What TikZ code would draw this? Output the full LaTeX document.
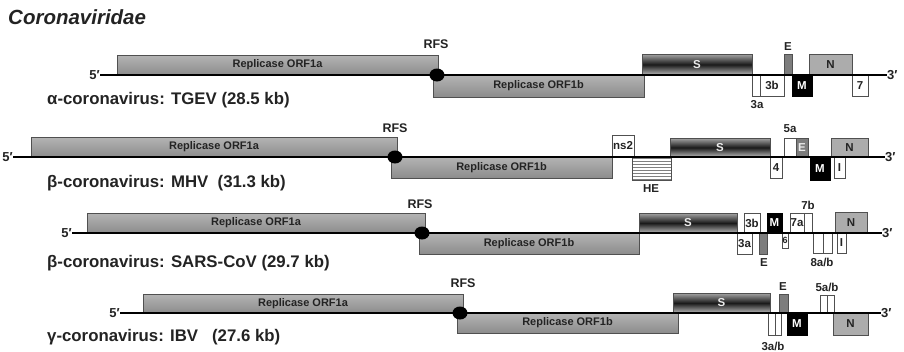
\documentclass[tikz,border=0pt]{standalone}
\usepackage{fontspec}
\setmainfont{Liberation Sans}
\usetikzlibrary{patterns,shapes.geometric}
\definecolor{orftop}{RGB}{180,180,180}
\definecolor{orfbot}{RGB}{140,140,140}
\definecolor{edgec}{RGB}{80,80,80}
\definecolor{ngray}{RGB}{172,172,172}
\definecolor{egray}{RGB}{125,125,125}
\definecolor{txt}{RGB}{35,35,35}
\newcommand{\gbox}[7]{\node[#6, anchor=north west, minimum width={(#4)-(#2)}, minimum height={(#5)-(#3)}] (#1) at (#2,#3) {#7};}
\tikzset{
  base/.style={inner sep=0pt, outer sep=0pt, line width=0.7pt, draw=edgec, text=txt, font=\bfseries\fontsize{11.5}{11.5}\selectfont},
  orf/.style={base, top color=orftop, bottom color=orfbot, font=\bfseries\fontsize{11}{11}\selectfont},
  spike/.style={base, top color=gray!70, bottom color=gray!55, middle color=black!90, text=white!85!gray},
  wbox/.style={base, fill=white},
  nbox/.style={base, fill=ngray},
  ebox/.style={base, fill=egray, text=white!85!gray},
  mbox/.style={base, fill=black, draw=black, text=white},
  hebox/.style={base, pattern=horizontal lines, pattern color=gray},
  genome/.style={line width=2pt, draw=black},
  rfsdot/.style={ellipse, fill=black, inner sep=0pt, minimum width=15pt, minimum height=13pt},
  endlbl/.style={inner sep=0pt, font=\bfseries\fontsize{13}{13}\selectfont, text=txt},
  lbl/.style={inner sep=0pt, font=\bfseries\fontsize{11.5}{11.5}\selectfont, text=txt},
  rfslbl/.style={inner sep=0pt, font=\bfseries\fontsize{12.5}{12.5}\selectfont, text=txt},
  rowlbl/.style={inner sep=0pt, anchor=west, font=\bfseries\fontsize{16.8}{16.8}\selectfont, text=txt},
}
\begin{document}
\begin{tikzpicture}[x=1pt,y=-1pt]
\useasboundingbox (0,0) rectangle (904,351);
\node[inner sep=0pt, anchor=west, font=\bfseries\itshape\fontsize{20.5}{20.5}\selectfont, text=txt] (title) at (8,17) {Coronaviridae};

% ---------- Row 1: TGEV ----------
\node[endlbl, anchor=east] (fivea) at (100,75) {5′};
\node[endlbl, anchor=west] (threea) at (887,75) {3′};
\gbox{oneaA}{117}{55}{438}{75}{orf}{Replicase ORF1a}
\gbox{onebA}{433}{75}{644}{97}{orf}{Replicase ORF1b}
\gbox{sA}{642}{54}{752}{75}{spike}{S}
\gbox{threeaboxA}{752}{75}{760}{96}{wbox}{}
\gbox{threebA}{760}{75}{784}{96}{wbox}{3b}
\gbox{eA}{784}{54}{792}{75}{ebox}{}
\gbox{nA}{809}{54}{852}{75}{nbox}{N}
\gbox{mA}{792}{75}{812}{96}{mbox}{M}
\gbox{sevenA}{852}{75}{868}{96}{wbox}{7}
\node[lbl] (lthreeaA) at (757,105) {3a};
\node[lbl] (leA) at (788,47) {E};
\draw[genome] (fivea.east) -- (threea.west);
\node[rfsdot] (dotA) at (437,75) {};
\node[rfslbl] (rfsA) at (436,44) {RFS};
\node[rowlbl] (rowA) at (47,100) {α-coronavirus: TGEV (28.5 kb)};

% ---------- Row 2: MHV ----------
\node[endlbl, anchor=east] (fiveb) at (13,157) {5′};
\node[endlbl, anchor=west] (threeb) at (885,157) {3′};
\gbox{oneaB}{31}{137}{397}{157}{orf}{Replicase ORF1a}
\gbox{onebB}{391}{157}{612}{178}{orf}{Replicase ORF1b}
\gbox{nstwoB}{612}{135}{634}{157}{wbox}{ns2}
\gbox{heB}{632}{157}{671}{180}{hebox}{}
\gbox{sB}{670}{138}{770}{157}{spike}{S}
\gbox{fourB}{770}{157}{782}{178}{wbox}{4}
\gbox{fiveaB}{784}{138}{796}{157}{wbox}{}
\gbox{eB}{796}{138}{808}{157}{ebox}{E}
\gbox{nB}{831}{138}{868}{157}{nbox}{N}
\gbox{mB}{810}{157}{830}{180}{mbox}{M}
\gbox{iB}{834}{157}{845}{178}{wbox}{I}
\node[lbl] (lheB) at (651,189) {HE};
\node[lbl] (lfiveaB) at (790,129) {5a};
\draw[genome] (fiveb.east) -- (threeb.west);
\node[rfsdot] (dotB) at (395,157) {};
\node[rfslbl] (rfsB) at (395,128) {RFS};
\node[rowlbl] (rowB) at (47,183) {β-coronavirus: MHV\ \ (31.3 kb)};

% ---------- Row 3: SARS-CoV ----------
\node[endlbl, anchor=east] (fivec) at (72,233) {5′};
\node[endlbl, anchor=west] (threec) at (882,233) {3′};
\gbox{oneaC}{87}{213}{425}{233}{orf}{Replicase ORF1a}
\gbox{onebC}{419}{233}{639}{254}{orf}{Replicase ORF1b}
\gbox{sC}{639}{213}{737}{233}{spike}{S}
\gbox{threeaC}{737}{233}{752}{254}{wbox}{3a}
\gbox{threebC}{744}{213}{760}{233}{wbox}{3b}
\gbox{eC}{759}{233}{767}{254}{ebox}{}
\gbox{mC}{767}{213}{782}{233}{mbox}{M}
\gbox{sixC}{782}{233}{788}{248}{wbox, font=\bfseries\fontsize{9}{9}\selectfont}{6}
\gbox{sevenaC}{790}{213}{804}{233}{wbox}{7a}
\gbox{sevenbC}{804}{213}{812}{233}{wbox}{}
\gbox{eightaC}{813}{233}{823}{253}{wbox}{}
\gbox{eightbC}{823}{233}{832}{253}{wbox}{}
\gbox{iC}{837}{233}{846}{253}{wbox}{I}
\gbox{nC}{835}{212}{867}{233}{nbox}{N}
\node[lbl] (leC) at (764,263) {E};
\node[lbl] (lsevenbC) at (808,205) {7b};
\node[lbl] (leightC) at (822,262) {8a/b};
\draw[genome] (fivec.east) -- (threec.west);
\node[rfsdot] (dotC) at (422,233) {};
\node[rfslbl] (rfsC) at (420,204) {RFS};
\node[rowlbl] (rowC) at (47,263) {β-coronavirus: SARS-CoV (29.7 kb)};

% ---------- Row 4: IBV ----------
\node[endlbl, anchor=east] (fived) at (120,313) {5′};
\node[endlbl, anchor=west] (threed) at (881,313) {3′};
\gbox{oneaD}{143}{294}{463}{313}{orf}{Replicase ORF1a}
\gbox{onebD}{457}{313}{678}{333}{orf}{Replicase ORF1b}
\gbox{sD}{673}{293}{770}{313}{spike}{S}
\gbox{threeaD}{768}{313}{775}{335}{wbox}{}
\gbox{threebD}{775}{313}{781}{335}{wbox}{}
\gbox{eD}{779}{294}{788}{313}{ebox}{}
\gbox{mD}{787}{313}{807}{335}{mbox}{M}
\gbox{fiveaD}{820}{295}{827}{313}{wbox}{}
\gbox{fivebD}{827}{295}{834}{313}{wbox}{}
\gbox{nD}{833}{313}{868}{335}{nbox}{N}
\node[lbl] (lthreeD) at (773,346) {3a/b};
\node[lbl] (leD) at (783,287) {E};
\node[lbl] (lfiveD) at (827,287) {5a/b};
\draw[genome] (fived.east) -- (threed.west);
\node[rfsdot] (dotD) at (460,313) {};
\node[rfslbl] (rfsD) at (463,283) {RFS};
\node[rowlbl] (rowD) at (47,337) {γ-coronavirus: IBV\ \ \ (27.6 kb)};
\end{tikzpicture}
\end{document}
